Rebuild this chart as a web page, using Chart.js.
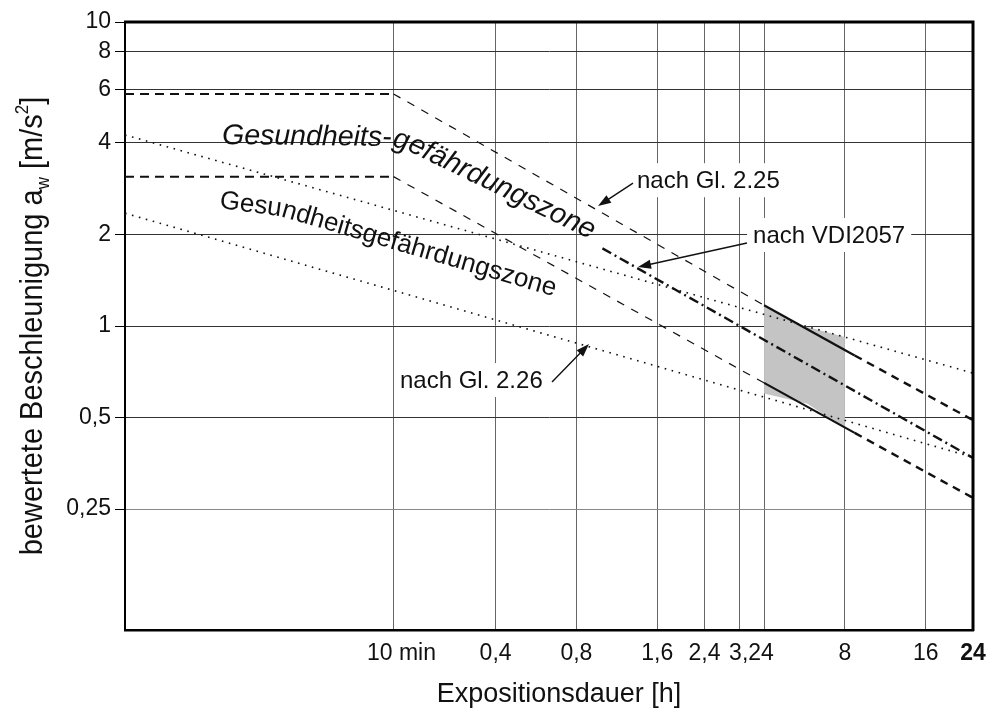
<!DOCTYPE html>
<html>
<head>
<meta charset="utf-8">
<script src="https://cdn.jsdelivr.net/npm/chart.js@4/dist/chart.umd.min.js"></script>
<style>
html,body{margin:0;padding:0;background:#fff;}
#wrap{width:993px;height:718px;position:relative;}
canvas{display:block;}
</style>
</head>
<body>
<div id="wrap"><canvas id="c" width="993" height="718"></canvas></div>
<script>
// ---------- data ----------
const xTickValues = [1/6, 0.4, 0.8, 1.6, 2.4, 3.24, 4, 8, 16, 24];
const xTickLabels = ['10 min', '0,4', '0,8', '1,6', '2,4', '3,24', '', '8', '16', '24'];
const yTickValues = [0.25, 0.5, 1, 2, 4, 6, 8, 10];
const yTickLabels = ['0,25', '0,5', '1', '2', '4', '6', '8', '10'];

// nach Gl. 2.25 (upper and lower boundary), break points in hours
const gl225Times = [1/60, 1/6, 4, 8.7, 24];
const gl225Upper = [5.8, 5.8, 1.17, 0.80, 0.49];
const gl225Lower = [3.1, 3.1, 0.65, 0.445, 0.272];

// nach VDI 2057
const vdiTimes = [1, 24];
const vdiValues = [1.8, 0.368];

// nach Gl. 2.26 (upper and lower boundary)
const gl226Times = [1/60, 24];
const gl226Upper = [4.25, 0.70];
const gl226Lower = [2.35, 0.37];

// shaded zone 4 h ... 8 h (outline)
const zoneTimes = [4, 5.4, 8, 8, 5.8, 4];
const zoneValues = [1.17, 1.01, 0.92, 0.46, 0.555, 0.60];

// ---------- helpers ----------
const FONT = '"Liberation Sans", Arial, Helvetica, sans-serif';
function pts(times, vals, i0, i1) {
  const out = [];
  for (let i = i0; i <= i1; i++) out.push({x: times[i], y: vals[i]});
  return out;
}
function lineDs(data, width, dash, extra) {
  return Object.assign({
    data, borderColor: '#111', borderWidth: width, borderDash: dash || [],
    pointRadius: 0, fill: false, tension: 0, borderCapStyle: 'butt'
  }, extra || {});
}

const last = gl225Times.length - 1;
const datasets = [
  lineDs(pts(gl225Times, gl225Upper, 2, 3), 2.2, []),
  lineDs(pts(gl225Times, gl225Lower, 2, 3), 2.2, []),
  lineDs(pts(gl225Times, gl225Upper, 3, last), 2.4, [8, 6]),
  lineDs(pts(gl225Times, gl225Lower, 3, last), 2.4, [8, 6]),
  lineDs(pts(vdiTimes, vdiValues, 0, 1), 2.4, [10, 4, 2, 4]),
  lineDs(pts(gl225Times, gl225Upper, 0, 1), 2, [9, 6]),
  lineDs(pts(gl225Times, gl225Lower, 0, 1), 2, [9, 6]),
  lineDs(pts(gl225Times, gl225Upper, 1, 2), 1.2, [8, 8]),
  lineDs(pts(gl225Times, gl225Lower, 1, 2), 1.2, [8, 8]),
  lineDs(pts(gl226Times, gl226Upper, 0, 1), 1.6, [1.6, 5.6]),
  lineDs(pts(gl226Times, gl226Lower, 0, 1), 1.6, [1.6, 5.6]),
  lineDs(pts(zoneTimes, zoneValues, 0, zoneTimes.length - 1), 0, [],
    {fill: 'shape', backgroundColor: '#c4c4c4', borderColor: 'rgba(0,0,0,0)'})
];

// annotation anchors (data coordinates: hours, m/s^2)
const labelNotes = [
  {text: 'nach Gl. 2.25', at: [1.345, 2.84], tail: [1.30, 2.95], tip: [0.963, 2.48]},
  {text: 'nach VDI2057', at: [3.64, 1.875], tail: [3.455, 1.875], tip: [1.357, 1.563]},
  {text: 'nach Gl. 2.26', at: [0.1762, 0.625], tail: [0.649, 0.654], tip: [0.891, 0.873]}
];
const zoneTexts = [
  {text: 'Gesundheits-gefährdungszone', font: 'italic 28.5px ' + FONT,
   path: [[0.03829, 3.97], [0.17322, 3.909], [0.899, 1.932]]},
  {text: 'Gesundheitsgefährdungszone', font: '26px ' + FONT,
   path: [[0.03732, 2.444], [0.06297, 2.301], [0.7132, 1.227]]}
];

function textOnPath(ctx, str, p) {
  const segs = [];
  let total = 0;
  for (let i = 1; i < p.length; i++) {
    const dx = p[i][0] - p[i-1][0], dy = p[i][1] - p[i-1][1];
    const len = Math.hypot(dx, dy);
    segs.push({x0: p[i-1][0], y0: p[i-1][1], dx, dy, len, start: total});
    total += len;
  }
  function at(s) {
    let sg = segs[segs.length - 1];
    for (const g of segs) { if (s <= g.start + g.len) { sg = g; break; } }
    if (s < 0) sg = segs[0];
    const f = (s - sg.start) / sg.len;
    return {x: sg.x0 + sg.dx * f, y: sg.y0 + sg.dy * f};
  }
  let s = 0;
  for (const ch of str) {
    const w = ctx.measureText(ch).width;
    const a = at(s), b = at(s + w);
    const ang = Math.atan2(b.y - a.y, b.x - a.x);
    ctx.save();
    ctx.translate(a.x, a.y);
    ctx.rotate(ang);
    ctx.fillText(ch, 0, 0);
    ctx.restore();
    s += w;
  }
}

function arrow(ctx, x0, y0, x1, y1) {
  const ang = Math.atan2(y1 - y0, x1 - x0);
  const hl = 13, hw = 4.5;
  ctx.beginPath();
  ctx.moveTo(x0, y0);
  ctx.lineTo(x1 - Math.cos(ang) * hl * 0.8, y1 - Math.sin(ang) * hl * 0.8);
  ctx.lineWidth = 1.4;
  ctx.strokeStyle = '#111';
  ctx.stroke();
  ctx.beginPath();
  ctx.moveTo(x1, y1);
  ctx.lineTo(x1 - Math.cos(ang) * hl - Math.sin(ang) * hw, y1 - Math.sin(ang) * hl + Math.cos(ang) * hw);
  ctx.lineTo(x1 - Math.cos(ang) * hl + Math.sin(ang) * hw, y1 - Math.sin(ang) * hl - Math.cos(ang) * hw);
  ctx.closePath();
  ctx.fillStyle = '#111';
  ctx.fill();
}

const decor = {
  id: 'decor',
  afterDatasetsDraw(chart) {
    const ctx = chart.ctx, xs = chart.scales.x, ys = chart.scales.y;
    const P = (d) => [xs.getPixelForValue(d[0]), ys.getPixelForValue(d[1])];
    ctx.save();
    ctx.fillStyle = '#111';
    ctx.textBaseline = 'alphabetic';
    for (const z of zoneTexts) {
      ctx.font = z.font;
      ctx.textAlign = 'left';
      textOnPath(ctx, z.text, z.path.map(P));
    }
    ctx.font = '24px ' + FONT;
    for (const n of labelNotes) {
      const [x, y] = P(n.at);
      const w = ctx.measureText(n.text).width;
      ctx.fillStyle = '#fff';
      ctx.fillRect(x - 6, y - 25, w + 12, 34);
      ctx.fillStyle = '#111';
      ctx.textAlign = 'left';
      ctx.fillText(n.text, x, y);
      const [tx, ty] = P(n.tail), [hx, hy] = P(n.tip);
      arrow(ctx, tx, ty, hx, hy);
    }
    ctx.restore();
  },
  afterDraw(chart) {
    const ctx = chart.ctx, a = chart.chartArea, xs = chart.scales.x;
    ctx.save();
    ctx.strokeStyle = '#000';
    ctx.lineWidth = 3;
    ctx.beginPath();
    ctx.moveTo(a.left - 1, a.top);
    ctx.lineTo(a.right, a.top);
    ctx.lineTo(a.right, a.bottom + 1);
    ctx.stroke();
    ctx.fillStyle = '#111';
    ctx.textAlign = 'center';
    ctx.textBaseline = 'alphabetic';
    const shift = {'10 min': 8, '3,24': 12};
    xTickValues.forEach((v, i) => {
      const lab = xTickLabels[i];
      if (!lab) return;
      ctx.font = (lab === '24' ? 'bold ' : '') + '23px ' + FONT;
      ctx.fillText(lab, xs.getPixelForValue(v) + (shift[lab] || 0), a.bottom + 30);
    });
    ctx.font = '27px ' + FONT;
    ctx.fillText('Expositionsdauer [h]', (a.left + a.right) / 2 + 10, a.bottom + 72);
    const parts = [
      {t: 'bewertete Beschleunigung a', s: 29, dy: 0},
      {t: 'w', s: 17, dy: 6},
      {t: ' [m/s', s: 29, dy: 0},
      {t: '2', s: 17, dy: -13},
      {t: ']', s: 29, dy: 0}
    ];
    ctx.translate(42, (a.top + a.bottom) / 2);
    ctx.rotate(-Math.PI / 2);
    ctx.scale(1, 1.1);
    let total = 0;
    for (const p of parts) { ctx.font = p.s + 'px ' + FONT; p.w = ctx.measureText(p.t).width; total += p.w; }
    let x = -total / 2;
    ctx.textAlign = 'left';
    for (const p of parts) { ctx.font = p.s + 'px ' + FONT; ctx.fillText(p.t, x, p.dy); x += p.w; }
    ctx.restore();
  }
};

new Chart(document.getElementById('c'), {
  type: 'line',
  data: {datasets},
  options: {
    responsive: false,
    animation: false,
    devicePixelRatio: 1,
    layout: {padding: {top: 22, right: 20, left: 0, bottom: 0}},
    plugins: {legend: {display: false}, tooltip: {enabled: false}},
    scales: {
      x: {
        type: 'logarithmic', min: 1/60, max: 24,
        afterBuildTicks: (s) => { s.ticks = xTickValues.map(v => ({value: v})); },
        afterFit: (s) => { s.height = 88; },
        ticks: {display: false},
        grid: {color: '#666', lineWidth: 1, drawTicks: false},
        border: {color: '#000', width: 2.5}
      },
      y: {
        type: 'logarithmic', min: 0.1, max: 10,
        afterBuildTicks: (s) => { s.ticks = yTickValues.map(v => ({value: v})); },
        afterFit: (s) => { s.width = 125; },
        ticks: {
          autoSkip: false, padding: 4, color: '#111',
          font: {family: FONT, size: 23},
          callback: (v) => { const i = yTickValues.indexOf(v); return i >= 0 ? yTickLabels[i] : ''; }
        },
        grid: {
          color: (c) => (c.tick && c.tick.value === 0.25) ? '#888' : '#333',
          lineWidth: 1, tickLength: 10, tickColor: '#000'
        },
        border: {color: '#000', width: 2}
      }
    }
  },
  plugins: [decor]
});
</script>
</body>
</html>
